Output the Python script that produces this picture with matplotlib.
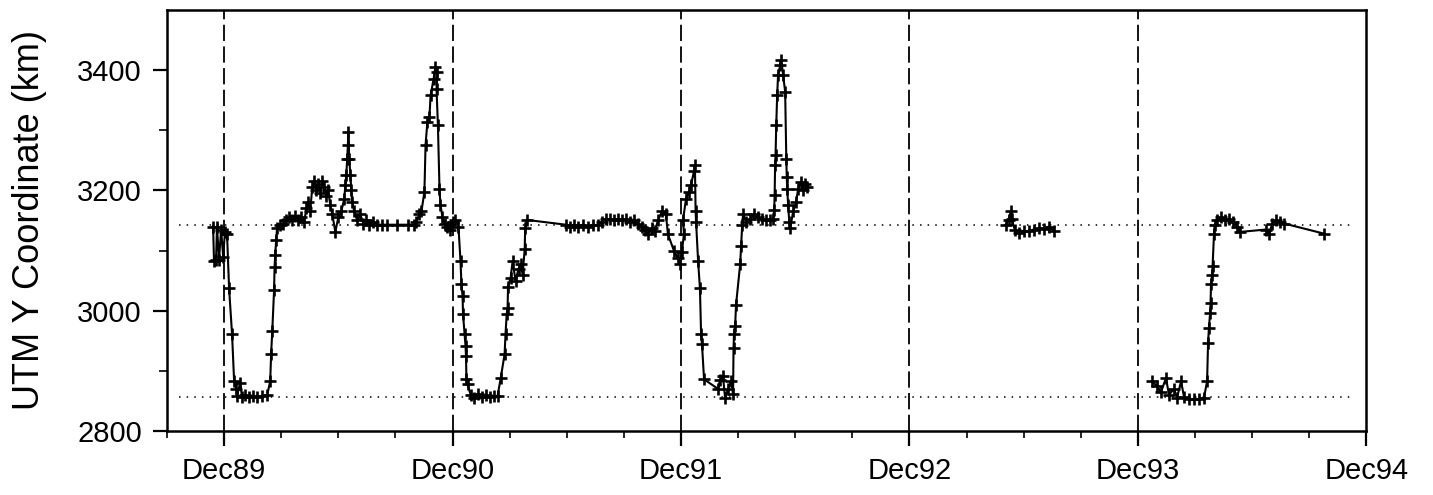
"""
UTM Y coordinate of tracked positions, Dec 1989 - Dec 1994
"""
import numpy as np
import matplotlib.pyplot as plt
plt.rcParams.update({'font.family': ['Liberation Sans', 'DejaVu Sans']})

# Time in years after Dec89, UTM Y in km
# 1989 - mid 1992
t1 = [-0.048, -0.044, -0.035, -0.031, -0.022, -0.013, -0.004, 0.004, 0.013, 0.022,
      0.035, 0.044, 0.053, 0.057, 0.070, 0.079, 0.092, 0.110, 0.127, 0.145,
      0.167, 0.189, 0.202, 0.206, 0.211, 0.219, 0.221, 0.224, 0.228, 0.232,
      0.246, 0.259, 0.272, 0.285, 0.298, 0.311, 0.325, 0.338, 0.351, 0.360,
      0.368, 0.377, 0.386, 0.395, 0.404, 0.412, 0.421, 0.430, 0.439, 0.447,
      0.456, 0.465, 0.474, 0.487, 0.500, 0.513, 0.526, 0.531, 0.535, 0.539,
      0.542, 0.544, 0.548, 0.553, 0.557, 0.561, 0.570, 0.583, 0.596, 0.610,
      0.623, 0.636, 0.654, 0.671, 0.693, 0.715, 0.759, 0.803, 0.833, 0.842,
      0.855, 0.864, 0.877, 0.882, 0.890, 0.899, 0.904, 0.917, 0.925, 0.934,
      0.930, 0.936, 0.943, 0.947, 0.956, 0.965, 0.978, 0.987, 1.000, 1.013,
      1.026, 1.035, 1.039, 1.044, 1.046, 1.053, 1.057, 1.059, 1.061, 1.066,
      1.079, 1.092, 1.110, 1.127, 1.145, 1.162, 1.180, 1.197, 1.211, 1.228,
      1.232, 1.237, 1.241, 1.243, 1.254, 1.263, 1.276, 1.289, 1.298, 1.307,
      1.316, 1.318, 1.325, 1.496, 1.513, 1.531, 1.548, 1.570, 1.592, 1.614,
      1.636, 1.654, 1.671, 1.689, 1.706, 1.724, 1.741, 1.759, 1.776, 1.794,
      1.811, 1.829, 1.842, 1.855, 1.873, 1.886, 1.899, 1.917, 1.934, 1.943,
      1.969, 1.987, 1.996, 2.004, 2.013, 2.009, 2.022, 2.035, 2.044, 2.057,
      2.061, 2.064, 2.066, 2.075, 2.083, 2.088, 2.092, 2.101, 2.162, 2.171,
      2.184, 2.193, 2.206, 2.219, 2.228, 2.230, 2.232, 2.237, 2.241, 2.259,
      2.263, 2.268, 2.272, 2.285, 2.303, 2.320, 2.338, 2.355, 2.373, 2.390,
      2.404, 2.408, 2.410, 2.412, 2.414, 2.417, 2.421, 2.425, 2.434, 2.439,
      2.447, 2.456, 2.461, 2.463, 2.465, 2.469, 2.474, 2.478, 2.491, 2.504,
      2.513, 2.526, 2.535, 2.544, 2.553]
y1 = [3140, 3083, 3085, 3140, 3085, 3135, 3090, 3131, 3128, 3037,
      2961, 2883, 2870, 2858, 2880, 2856, 2860, 2857, 2858, 2857,
      2858, 2860, 2883, 2928, 2966, 3035, 3072, 3093, 3117, 3137,
      3142, 3145, 3150, 3155, 3150, 3158, 3150, 3155, 3148, 3170,
      3180, 3165, 3205, 3215, 3200, 3210, 3195, 3215, 3205, 3190,
      3200, 3175, 3160, 3131, 3155, 3165, 3186, 3209, 3226, 3252,
      3276, 3297, 3252, 3226, 3200, 3181, 3165, 3150, 3160, 3145,
      3150, 3142, 3148, 3143, 3143, 3143, 3143, 3143, 3143, 3148,
      3160, 3165, 3198, 3276, 3314, 3322, 3358, 3385, 3405, 3397,
      3369, 3309, 3203, 3176, 3156, 3145, 3140, 3135, 3148, 3150,
      3140, 3082, 3045, 3024, 2994, 2961, 2941, 2924, 2886, 2878,
      2860, 2855, 2862, 2857, 2860, 2856, 2858, 2858, 2888, 2928,
      2961, 2994, 3004, 3040, 3054, 3082, 3050, 3070, 3077, 3060,
      3103, 3137, 3151, 3143, 3140, 3143, 3140, 3143, 3140, 3143,
      3142, 3148, 3152, 3152, 3150, 3153, 3150, 3152, 3148, 3150,
      3145, 3140, 3135, 3128, 3137, 3132, 3150, 3165, 3160, 3127,
      3100, 3087, 3077, 3098, 3128, 3151, 3186, 3198, 3209, 3232,
      3243, 3165, 3148, 3082, 3037, 2961, 2944, 2886, 2870, 2885,
      2891, 2855, 2870, 2883, 2861, 2938, 2961, 2974, 3010, 3077,
      3107, 3143, 3161, 3148, 3152, 3160, 3155, 3152, 3150, 3150,
      3153, 3168, 3193, 3243, 3259, 3309, 3358, 3392, 3408, 3417,
      3392, 3364, 3252, 3223, 3203, 3176, 3148, 3137, 3165, 3181,
      3203, 3214, 3200, 3210, 3205]

# mid 1993
t2 = [3.421, 3.434, 3.443, 3.447, 3.461, 3.478, 3.500, 3.522, 3.544, 3.566,
      3.588, 3.610, 3.632]
y2 = [3143, 3150, 3165, 3153, 3135, 3130, 3133, 3132, 3135, 3137,
      3136, 3140, 3133]

# 1994
t3 = [4.061, 4.083, 4.101, 4.123, 4.136, 4.158, 4.171, 4.189, 4.202, 4.224,
      4.246, 4.268, 4.289, 4.303, 4.307, 4.311, 4.316, 4.318, 4.320, 4.325,
      4.327, 4.333, 4.336, 4.346, 4.364, 4.382, 4.399, 4.417, 4.434, 4.447,
      4.561, 4.575, 4.588, 4.605, 4.623, 4.640, 4.816]
y3 = [2883, 2875, 2865, 2888, 2860, 2870, 2855, 2883, 2856, 2853,
      2853, 2853, 2855, 2883, 2946, 2972, 2996, 3012, 3045, 3060,
      3075, 3127, 3143, 3150, 3155, 3150, 3152, 3148, 3140, 3131,
      3135, 3128, 3145, 3150, 3148, 3145, 3128]

year_labels = ['Dec89', 'Dec90', 'Dec91', 'Dec92', 'Dec93', 'Dec94']
ref_levels = [3143, 2857]   # the two dotted reference levels

# Plot
fig = plt.figure(figsize=(14.33, 4.95), dpi=100)
ax = fig.add_axes([0.1165, 0.1293, 0.837, 0.8505])

for t, y in [(t1, y1), (t2, y2), (t3, y3)]:
    ax.plot(t, y, color='black', lw=1.5, marker='+', ms=9, mew=1.9)

# Year lines and reference levels
for i in range(len(year_labels) - 1):
    ax.axvline(i, color='black', lw=1.3, dashes=(9, 3))
for lev in ref_levels:
    ax.axhline(lev, xmin=0.01, xmax=0.99, color='black', lw=1.1, dashes=(1, 4))

# Axes
ax.set_xlim(-0.25, 5.0)
ax.set_ylim(2800, 3500)
ax.set_xticks(range(len(year_labels)))
ax.set_xticklabels(year_labels)
ax.set_xticks(np.arange(-0.25, 5.0, 0.25), minor=True)
ax.set_yticks([2800, 3000, 3200, 3400])
ax.set_yticks([2900, 3100, 3300], minor=True)
ax.tick_params(axis='x', which='major', length=11, width=1.6, labelsize=21, pad=8)
ax.tick_params(axis='x', which='minor', length=5, width=1.2)
ax.tick_params(axis='y', which='major', length=10, width=1.6, labelsize=21, pad=8)
ax.tick_params(axis='y', which='minor', length=6, width=1.2)
ax.set_ylabel('UTM Y Coordinate (km)', fontsize=26, labelpad=22)
for s in ax.spines.values():
    s.set_linewidth(1.8)

plt.savefig('out.png', dpi=100)
